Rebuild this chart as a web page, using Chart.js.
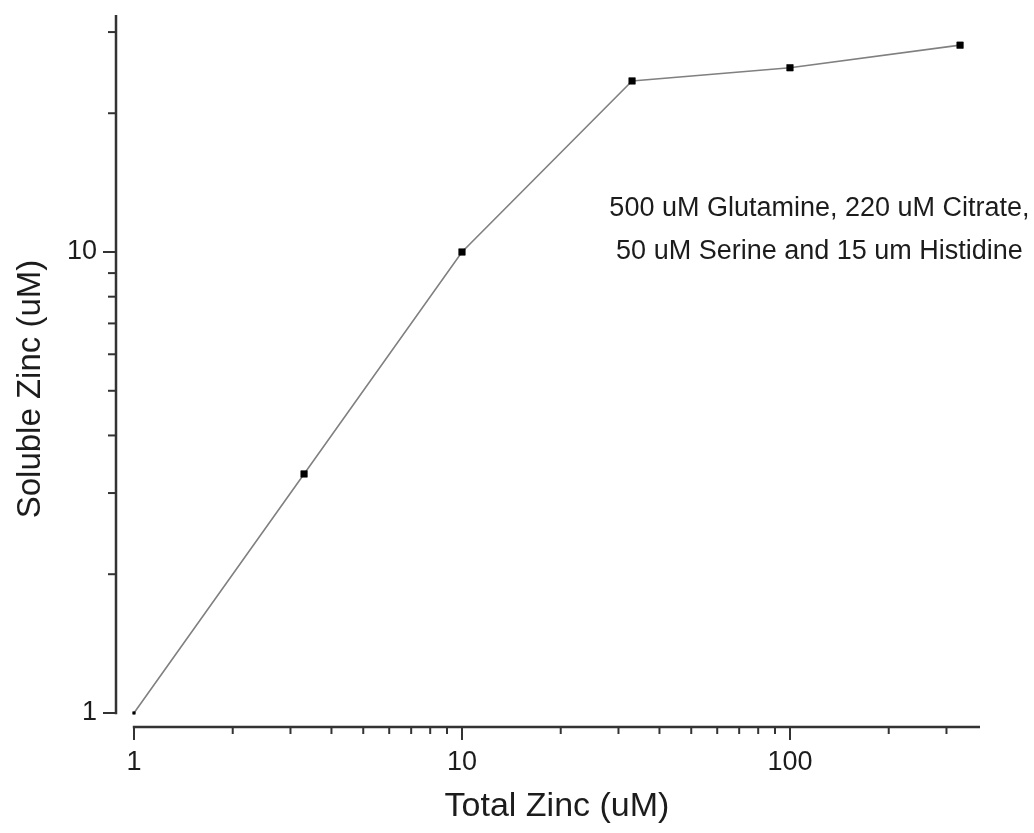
<!DOCTYPE html>
<html><head><meta charset="utf-8">
<script src="https://cdn.jsdelivr.net/npm/chart.js@4"></script>
<style>html,body{margin:0;padding:0;background:#fff}#wrap{width:1034px;height:833px;position:relative}</style>
</head><body><div id="wrap"><canvas id="c"></canvas></div>
<script>
// ---- data ----
const totalZinc = [1, 3.3, 10, 33, 100, 330];
const solubleZinc = [1, 3.3, 10, 23.5, 25.1, 28.1];
// ---- ticks ----
const xMajorTicks = [1, 10, 100];
const xMinorTicks = [2, 3, 4, 5, 6, 7, 8, 9, 20, 30, 40, 50, 60, 70, 80, 90, 200, 300];
const yMajorTicks = [1, 10];
const yMinorTicks = [2, 3, 4, 5, 6, 7, 8, 9, 20, 30];
const xTitle = 'Total Zinc (uM)';
const yTitle = 'Soluble Zinc (uM)';
const annotationLines = ['500 uM Glutamine, 220 uM Citrate,', '50 uM Serine and 15 um Histidine'];

const FONT = "'Liberation Sans', Arial, Helvetica, sans-serif";
const TEXT = '#1c1c1c';
const AXIS = '#333333';

const detachedAxes = {
  id: 'detachedAxes',
  afterDraw(chart) {
    const {ctx, chartArea} = chart;
    const xs = chart.scales.x, ys = chart.scales.y;
    ctx.save();
    ctx.strokeStyle = AXIS;
    ctx.lineCap = 'butt';
    // x axis line
    const xb = chartArea.bottom;
    const x0 = xs.getPixelForValue(xMajorTicks[0]);
    ctx.lineWidth = 2.5;
    ctx.beginPath(); ctx.moveTo(x0 - 1.2, xb); ctx.lineTo(chartArea.right, xb); ctx.stroke();
    ctx.lineWidth = 2;
    xMajorTicks.forEach(v => { const p = xs.getPixelForValue(v); ctx.beginPath(); ctx.moveTo(p, xb); ctx.lineTo(p, xb + 13); ctx.stroke(); });
    xMinorTicks.forEach(v => { const p = xs.getPixelForValue(v); ctx.beginPath(); ctx.moveTo(p, xb); ctx.lineTo(p, xb + 7); ctx.stroke(); });
    // y axis line
    const yl = chartArea.left;
    const y0 = ys.getPixelForValue(yMajorTicks[0]);
    ctx.lineWidth = 2.5;
    ctx.beginPath(); ctx.moveTo(yl, y0 + 1.2); ctx.lineTo(yl, chartArea.top); ctx.stroke();
    ctx.lineWidth = 2;
    yMajorTicks.forEach(v => { const p = ys.getPixelForValue(v); ctx.beginPath(); ctx.moveTo(yl, p); ctx.lineTo(yl - 13, p); ctx.stroke(); });
    yMinorTicks.forEach(v => { const p = ys.getPixelForValue(v); ctx.beginPath(); ctx.moveTo(yl, p); ctx.lineTo(yl - 8, p); ctx.stroke(); });
    ctx.fillStyle = TEXT;
    ctx.textAlign = 'center';
    ctx.textBaseline = 'middle';
    // y axis title (slightly below the axis centre, as in the original)
    ctx.save();
    ctx.font = '33px ' + FONT;
    ctx.translate(ys.left + 31, (ys.top + ys.bottom) / 2 + 18);
    ctx.rotate(-Math.PI / 2);
    ctx.fillText(yTitle, 0, 0);
    ctx.restore();
    // x axis title (slightly right of the axis centre, as in the original)
    ctx.font = '34px ' + FONT;
    ctx.fillText(xTitle, (xs.left + xs.right) / 2 + 9, xs.bottom - 26);
    // annotation
    ctx.font = '27px ' + FONT;
    const ax = xs.getPixelForValue(123);
    const ay = ys.getPixelForValue(10);
    ctx.fillText(annotationLines[0], ax, ay - 43);
    ctx.fillText(annotationLines[1], ax, ay);
    ctx.restore();
  }
};

new Chart(document.getElementById('c'), {
  type: 'line',
  data: {
    datasets: [{
      data: totalZinc.map((x, i) => ({x, y: solubleZinc[i]})),
      borderColor: '#808080',
      borderWidth: 1.6,
      pointStyle: 'rect',
      pointRadius: [1.8, 4.6, 4.6, 4.6, 4.6, 4.6],
      pointBackgroundColor: '#000',
      pointBorderColor: '#000',
      pointBorderWidth: 0.6,
      tension: 0,
      fill: false,
      clip: false
    }]
  },
  options: {
    responsive: true,
    maintainAspectRatio: false,
    animation: false,
    layout: {padding: {top: 15, right: 54, left: 0, bottom: 0}},
    plugins: {legend: {display: false}, tooltip: {enabled: false}},
    scales: {
      x: {
        type: 'logarithmic',
        min: 0.8814, max: 379.6,
        afterBuildTicks: s => { s.ticks = xMajorTicks.map(v => ({value: v})); },
        afterFit: s => { s.height = 106; s.paddingLeft = 0; s.paddingRight = 0; },
        border: {display: false},
        grid: {display: true, drawOnChartArea: false, drawTicks: true, tickLength: 13, tickColor: 'rgba(0,0,0,0)'},
        ticks: {callback: v => String(v), padding: 6, color: TEXT, font: {family: FONT, size: 27}, maxRotation: 0, autoSkip: false},
        title: {display: false}
      },
      y: {
        type: 'logarithmic',
        min: 0.9324, max: 32.67,
        afterBuildTicks: s => { s.ticks = yMajorTicks.map(v => ({value: v})); },
        afterFit: s => { s.width = 116; s.paddingTop = 0; s.paddingBottom = 0; },
        border: {display: false},
        grid: {display: true, drawOnChartArea: false, drawTicks: true, tickLength: 13, tickColor: 'rgba(0,0,0,0)'},
        ticks: {callback: v => String(v), padding: 6, color: TEXT, font: {family: FONT, size: 27}, autoSkip: false},
        title: {display: false}
      }
    }
  },
  plugins: [detachedAxes]
});
</script>
</body></html>
